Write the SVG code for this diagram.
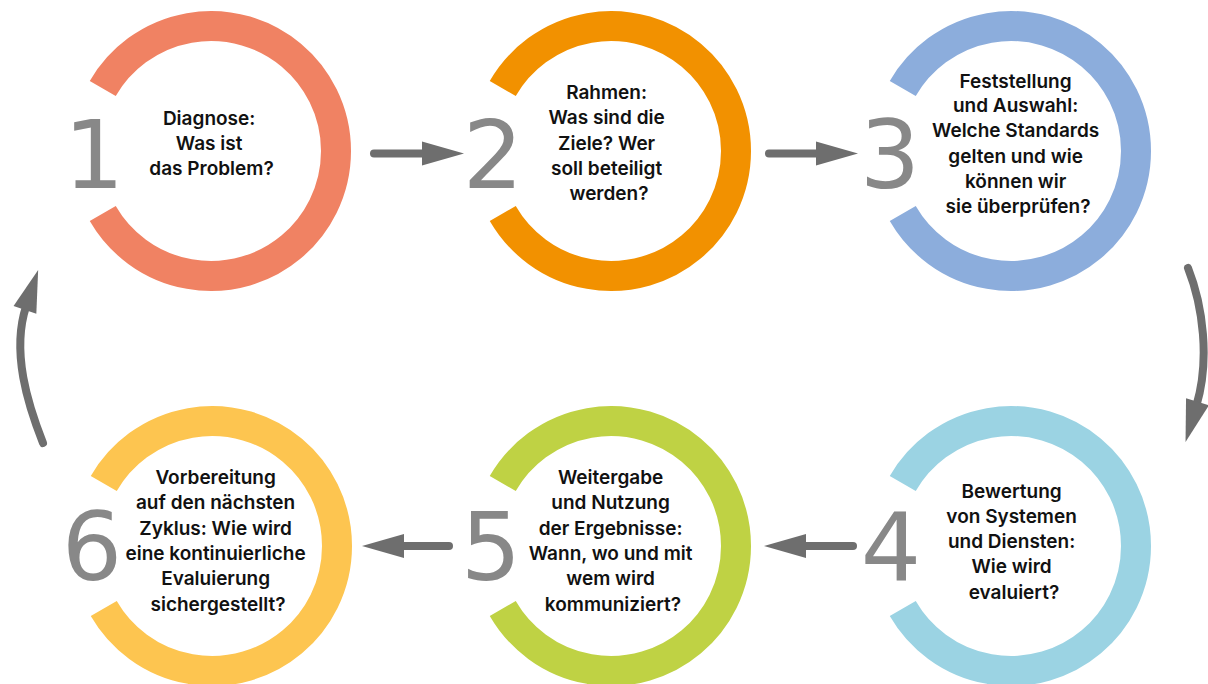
<svg xmlns="http://www.w3.org/2000/svg" width="1208" height="684" viewBox="0 0 1208 684">
  <defs>
    <marker id="head" markerUnits="userSpaceOnUse" markerWidth="42" markerHeight="24" viewBox="0 0 42 24" refX="4" refY="12" orient="auto" overflow="visible">
      <path d="M0,0 L42,12 L0,24 Z" fill="#6e6e6e"/>
    </marker>
    <style>
      .ring { fill: none; stroke-width: 30; }
      .num { font-family: "DejaVu Sans", "Liberation Sans", sans-serif; font-size: 95px; fill: #888888; text-anchor: middle; }
      .lbl { font-family: Inter, "Liberation Sans", sans-serif; font-weight: 600; font-size: 19px; fill: #111111; text-anchor: middle; }
      .arrow { fill: none; stroke: #6e6e6e; stroke-width: 8; stroke-linecap: round; marker-end: url(#head); }
    </style>
  </defs>
  <rect width="1208" height="684" fill="#ffffff"/>

  <!-- step 1 -->
  <g id="step1">
    <path class="ring" stroke="#f08263" d="M102.75,88.5 A125,125 0 1 1 102.75,213.5"/>
    <text class="num" x="94" y="188">1</text>
    <text class="lbl">
      <tspan x="211.5" y="124.5">Diagnose:</tspan>
      <tspan x="211.5" y="149.5">Was ist</tspan>
      <tspan x="211.5" y="175">das Problem?</tspan>
    </text>
  </g>

  <!-- step 2 -->
  <g id="step2">
    <path class="ring" stroke="#f29100" d="M502.75,88.5 A125,125 0 1 1 502.75,213.5"/>
    <text class="num" x="493" y="188">2</text>
    <text class="lbl">
      <tspan x="609" y="98.5">Rahmen:</tspan>
      <tspan x="609" y="124">Was sind die</tspan>
      <tspan x="609" y="149.5">Ziele? Wer</tspan>
      <tspan x="609" y="175">soll beteiligt</tspan>
      <tspan x="609" y="200">werden?</tspan>
    </text>
  </g>

  <!-- step 3 -->
  <g id="step3">
    <path class="ring" stroke="#8caddc" d="M902.75,88.5 A125,125 0 1 1 902.75,213.5"/>
    <text class="num" x="890" y="188">3</text>
    <text class="lbl">
      <tspan x="1018" y="87.5">Feststellung</tspan>
      <tspan x="1018" y="112">und Auswahl:</tspan>
      <tspan x="1018" y="137">Welche Standards</tspan>
      <tspan x="1018" y="162.5">gelten und wie</tspan>
      <tspan x="1018" y="188">können wir</tspan>
      <tspan x="1018" y="213">sie überprüfen?</tspan>
    </text>
  </g>

  <!-- step 4 -->
  <g id="step4">
    <path class="ring" stroke="#9bd3e3" d="M902.75,483.5 A125,125 0 1 1 902.75,608.5"/>
    <text class="num" x="891" y="580">4</text>
    <text class="lbl">
      <tspan x="1014" y="497.5">Bewertung</tspan>
      <tspan x="1014" y="522.5">von Systemen</tspan>
      <tspan x="1014" y="547.5">und Diensten:</tspan>
      <tspan x="1014" y="573">Wie wird</tspan>
      <tspan x="1014" y="598.5">evaluiert?</tspan>
    </text>
  </g>

  <!-- step 5 -->
  <g id="step5">
    <path class="ring" stroke="#bfd244" d="M502.75,483.5 A125,125 0 1 1 502.75,608.5"/>
    <text class="num" x="491" y="580">5</text>
    <text class="lbl">
      <tspan x="613" y="484">Weitergabe</tspan>
      <tspan x="613" y="509">und Nutzung</tspan>
      <tspan x="613" y="534.5">der Ergebnisse:</tspan>
      <tspan x="613" y="560">Wann, wo und mit</tspan>
      <tspan x="613" y="585">wem wird</tspan>
      <tspan x="613" y="610.5">kommuniziert?</tspan>
    </text>
  </g>

  <!-- step 6 -->
  <g id="step6">
    <path class="ring" stroke="#fdc550" d="M103.75,483.5 A125,125 0 1 1 103.75,608.5"/>
    <text class="num" x="92" y="580">6</text>
    <text class="lbl">
      <tspan x="218" y="484">Vorbereitung</tspan>
      <tspan x="218" y="509">auf den nächsten</tspan>
      <tspan x="218" y="534.5">Zyklus: Wie wird</tspan>
      <tspan x="218" y="560">eine kontinuierliche</tspan>
      <tspan x="218" y="585">Evaluierung</tspan>
      <tspan x="218" y="610.5">sichergestellt?</tspan>
    </text>
  </g>

  <!-- connectors between the steps -->
  <g id="connectors">
    <path class="arrow" d="M374,153.5 L426,153.5"/>
    <path class="arrow" d="M769,153.5 L820,153.5"/>
    <path class="arrow" d="M1188,268 C1203,306 1210,360 1196.4,405.6"/>
    <path class="arrow" d="M853,546 L802,546"/>
    <path class="arrow" d="M449,546 L400,546"/>
    <path class="arrow" d="M43,443 C28,405 11,352 26.2,306.1"/>
  </g>
</svg>
